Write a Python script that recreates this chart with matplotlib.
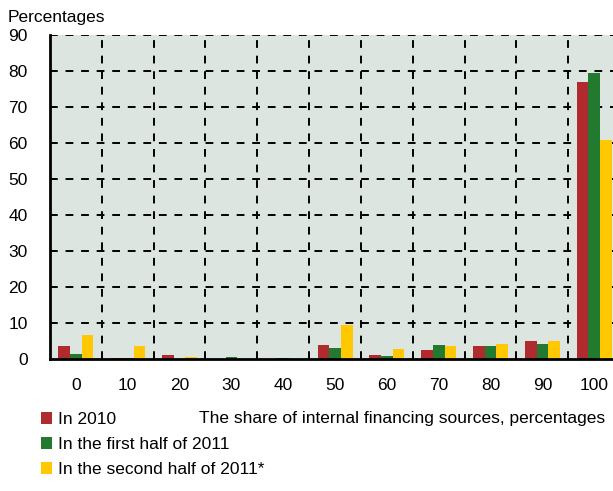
import numpy as np
import matplotlib.pyplot as plt

plt.rcParams['font.family'] = ['Liberation Sans', 'DejaVu Sans']

# data
shares = [0, 10, 20, 30, 40, 50, 60, 70, 80, 90, 100]
in_2010 = [3.7, 0.2, 1.0, 0.1, 0.1, 4.0, 1.2, 2.4, 3.7, 4.9, 77.0]
first_half_2011 = [1.5, 0.2, 0.1, 0.5, 0.2, 3.0, 0.9, 4.0, 3.6, 4.3, 79.5]
second_half_2011 = [6.6, 3.6, 0.5, 0.1, 0.1, 9.4, 2.7, 3.6, 4.3, 5.0, 60.8]

colors = ['#B02B2E', '#217A30', '#FFC800']
labels = ['In 2010', 'In the first half of 2011', 'In the second half of 2011*']

fig = plt.figure(figsize=(6.13, 4.91), dpi=100)
ax = fig.add_axes([0.0816, 0.2688, 0.93, 0.66])
ax.set_facecolor('#DDE5E0')

x = np.arange(len(shares))
w = 0.225
for i, (vals, c, lab) in enumerate(zip([in_2010, first_half_2011, second_half_2011], colors, labels)):
    ax.bar(x + (i - 1) * w, vals, width=w, color=c, label=lab, zorder=3)

# dashed grid
for y in range(10, 91, 10):
    ax.axhline(y, color='black', ls=(0, (4, 4)), lw=1.4, zorder=2)
for xv in x[:-1] + 0.5:
    ax.axvline(xv, color='black', ls=(0, (4, 4)), lw=1.4, zorder=2)

ax.set_xlim(-0.5, len(shares) - 0.5)
ax.set_ylim(0, 90)
ax.set_yticks(range(0, 91, 10))
ax.set_xticks(x)
ax.set_xticklabels([str(s) for s in shares])
ax.tick_params(axis='both', length=0, labelsize=12.5)
ax.tick_params(axis='x', pad=14)
ax.tick_params(axis='y', pad=16)

for s in ['top', 'right']:
    ax.spines[s].set_visible(False)
ax.spines['left'].set_linewidth(2)
ax.spines['bottom'].set_linewidth(2)
ax.spines['left'].set_zorder(4)
ax.spines['bottom'].set_zorder(4)

fig.text(0.013, 0.965, 'Percentages', fontsize=12.5, va='center')
fig.text(0.987, 0.148, 'The share of internal financing sources, percentages',
         fontsize=12.5, ha='right', va='center')

fig.legend(loc='upper left', bbox_to_anchor=(0.067, 0.161), frameon=False,
           fontsize=12.5, handlelength=0.65, handleheight=0.65, handletextpad=0.3,
           labelspacing=0.58, borderaxespad=0, borderpad=0)

fig.savefig('out.png', dpi=100)
